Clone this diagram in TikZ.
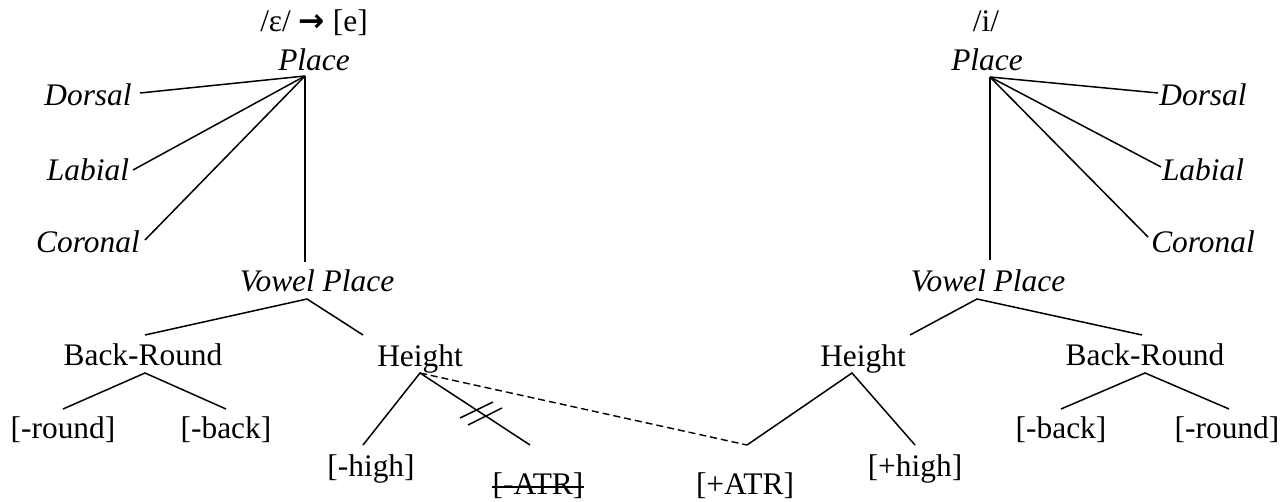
\documentclass[tikz,border=0pt]{standalone}
\usepackage{fontspec}
\setmainfont{Liberation Serif}
\newfontfamily\arrowfont{DejaVu Sans}
\usetikzlibrary{calc}
\tikzset{
  seg/.style={font=\fontsize{15.7}{18}\selectfont,anchor=base,inner sep=0pt},
  tier/.style={seg,font=\fontsize{15.7}{18}\selectfont\itshape},
  ln/.style={line width=0.75pt,black},
  assoc/.style={line width=0.7pt,dash pattern=on 3.5pt off 2pt},
}
\newcommand{\shiftarr}{{\arrowfont\bfseries →}}

\begin{document}
\begin{tikzpicture}[x=0.5pt,y=-0.5pt]
  \useasboundingbox (0,0) rectangle (1288,502);
  % left tree
  \node[seg] (hdL) at (314,32) {/ɛ/ \shiftarr{} [e]};
  \node[tier] (plL) at (314,71) {Place};
  \node[tier] (dorL) at (88,106) {Dorsal};
  \node[tier] (labL) at (88,181) {Labial};
  \node[tier] (corL) at (88,252) {Coronal};
  \node[tier] (vpL) at (317,291) {Vowel Place};
  \node[seg] (brL) at (143,365) {Back-Round};
  \node[seg] (htL) at (420,366) {Height};
  \node[seg] (rndL) at (63,438) {[-round]};
  \node[seg] (bckL) at (226,438) {[-back]};
  \node[seg] (hiL) at (371,476) {[-high]};
  \node[seg] (atrL) at (538,494) {[-ATR]};
  \draw[ln] ([yshift=3.5pt]atrL.base west) -- ([yshift=3.5pt]atrL.base east);
  \coordinate (plL-j) at (305,76);
  \coordinate (dorL-e) at (140,93);
  \coordinate (labL-e) at (133,170);
  \coordinate (corL-e) at (145,240);
  \coordinate (vpL-t) at (305,262);
  \coordinate (vpL-j) at (307,299);
  \coordinate (brL-t) at (145,335);
  \coordinate (brL-j) at (145,373);
  \coordinate (htL-t) at (363,335);
  \coordinate (htL-j) at (420,373);
  \coordinate (rndL-t) at (63,409);
  \coordinate (bckL-t) at (226,409);
  \coordinate (hiL-t) at (363,445);
  \coordinate (atrL-t) at (530,445);
  \foreach \t in {dorL,labL,corL}
    \draw[ln] (plL-j) -- (\t-e);
  \draw[ln] (plL-j) -- (vpL-t);
  \draw[ln] (brL-t) -- (vpL-j) -- (htL-t);
  \draw[ln] (rndL-t) -- (brL-j) -- (bckL-t);
  \draw[ln] (hiL-t) -- (htL-j) -- (atrL-t);
  % delinking marks
  \draw[ln] (460,418) -- (493,402);
  \draw[ln] (468,425) -- (502,408);

  % right tree
  \node[seg] (hdR) at (986,32) {/i/};
  \node[tier] (plR) at (987,71) {Place};
  \node[tier] (dorR) at (1203,106) {Dorsal};
  \node[tier] (labR) at (1203,181) {Labial};
  \node[tier] (corR) at (1203,252) {Coronal};
  \node[tier] (vpR) at (988,291) {Vowel Place};
  \node[seg] (htR) at (863,366) {Height};
  \node[seg] (brR) at (1145,365) {Back-Round};
  \node[seg] (atrR) at (745,494) {[+ATR]};
  \node[seg] (hiR) at (915,476) {[+high]};
  \node[seg] (bckR) at (1061,438) {[-back]};
  \node[seg] (rndR) at (1227,438) {[-round]};
  \coordinate (plR-j) at (990,77);
  \coordinate (dorR-e) at (1158,93);
  \coordinate (labR-e) at (1161,167);
  \coordinate (corR-e) at (1148,237);
  \coordinate (vpR-t) at (990,260);
  \coordinate (vpR-j) at (977,299);
  \coordinate (htR-t) at (910,335);
  \coordinate (htR-j) at (852,373);
  \coordinate (brR-t) at (1142,335);
  \coordinate (brR-j) at (1145,373);
  \coordinate (atrR-t) at (747,445);
  \coordinate (hiR-t) at (915,445);
  \coordinate (bckR-t) at (1061,409);
  \coordinate (rndR-t) at (1229,409);
  \foreach \t in {dorR,labR,corR}
    \draw[ln] (plR-j) -- (\t-e);
  \draw[ln] (plR-j) -- (vpR-t);
  \draw[ln] (htR-t) -- (vpR-j) -- (brR-t);
  \draw[ln] (atrR-t) -- (htR-j) -- (hiR-t);
  \draw[ln] (bckR-t) -- (brR-j) -- (rndR-t);

  % spreading of [+ATR]
  \draw[assoc] (htL-j) -- (atrR-t);
\end{tikzpicture}
\end{document}
